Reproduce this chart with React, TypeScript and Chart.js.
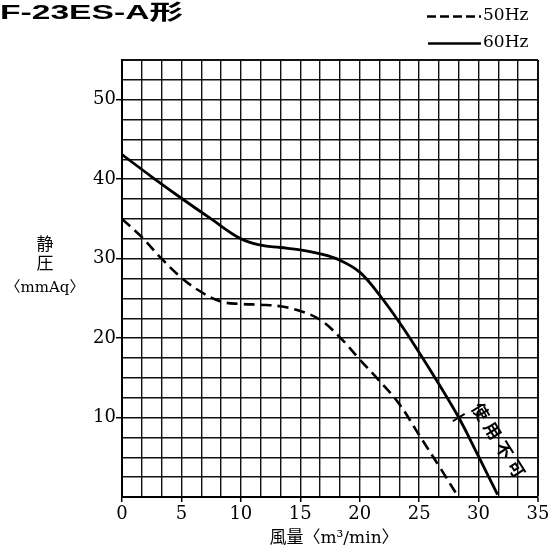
import React, { useEffect, useRef } from "react";
import { Chart, registerables } from "chart.js";

Chart.register(...registerables);

const TITLE = "F-23ES-A形";
const LEGEND_50 = "50Hz";
const LEGEND_60 = "60Hz";
const Y_TITLE_LINES = ["静", "圧", "〈mmAq〉"];
const X_TITLE = "風量〈m³/min〉";
const LIMIT_TEXT = ["使", "用", "不", "可"];

// 60Hz (solid)
const flow60 = [0, 2.5, 5, 7.5, 10, 11.67, 13.33, 15, 16.67, 18.33, 20, 21.67, 23.33, 25, 26.67, 28.33, 30, 31.6];
const press60 = [43.1, 40.3, 37.6, 35.0, 32.5, 31.7, 31.4, 31.1, 30.6, 29.8, 28.3, 25.4, 22.0, 18.2, 14.2, 10.0, 5.1, 0.3];

// 50Hz (dashed)
const flow50 = [0, 1.67, 3.33, 5, 6.67, 8.33, 10, 11.67, 13.33, 15, 16.67, 18.33, 20, 21.67, 23.33, 25, 26.67, 28.3];
const press50 = [35, 32.7, 30, 27.6, 25.8, 24.6, 24.3, 24.2, 24.0, 23.4, 22.3, 20.1, 17.3, 14.6, 11.7, 7.8, 3.9, 0];

const xLabelValues = [0, 5, 10, 15, 20, 25, 30, 35];
const yLabelValues = [10, 20, 30, 40, 50];
const X_MAX = 35;
const Y_MAX = 55;
const X_GRID_STEP = 5 / 3;
const Y_GRID_STEP = 2.5;
const LIMIT_POINT = { x: 28.33, y: 10 };

const near = (v: number, arr: number[]) => arr.some((a) => Math.abs(a - v) < 1e-6);

const SERIF = '"DejaVu Serif", "Noto Sans CJK JP", serif';

const textPlugin = {
  id: "texts",
  afterDraw(chart: any) {
    const ctx = chart.ctx as CanvasRenderingContext2D;
    const xs = chart.scales.x;
    const ys = chart.scales.y;
    ctx.save();
    ctx.fillStyle = "#000";
    ctx.strokeStyle = "#000";

    // Title (wide bold)
    ctx.save();
    ctx.font = 'bold 21px "Liberation Sans", "Noto Sans CJK JP", sans-serif';
    ctx.textAlign = "right";
    ctx.textBaseline = "alphabetic";
    ctx.translate(183, 18.5);
    ctx.scale(1.6, 1);
    ctx.fillText(TITLE, 0, 0);
    ctx.restore();

    // Legend
    ctx.lineWidth = 2.5;
    ctx.setLineDash([9, 4]);
    ctx.beginPath();
    ctx.moveTo(427, 16.5);
    ctx.lineTo(481, 16.5);
    ctx.stroke();
    ctx.setLineDash([]);
    ctx.beginPath();
    ctx.moveTo(428, 43.5);
    ctx.lineTo(481, 43.5);
    ctx.stroke();
    ctx.font = "17px " + SERIF;
    ctx.textAlign = "left";
    ctx.textBaseline = "middle";
    ctx.fillText(LEGEND_50, 483, 16);
    ctx.fillText(LEGEND_60, 483, 43);

    // Y title
    ctx.textAlign = "center";
    ctx.font = "17px " + SERIF;
    ctx.fillText(Y_TITLE_LINES[0], 45, 246);
    ctx.fillText(Y_TITLE_LINES[1], 45, 265);
    ctx.font = "15px " + SERIF;
    ctx.fillText(Y_TITLE_LINES[2], 45, 288);

    // X title
    ctx.font = "17px " + SERIF;
    ctx.fillText(X_TITLE, 334, 539);

    // Limit marker and text
    const px = xs.getPixelForValue(LIMIT_POINT.x);
    const py = ys.getPixelForValue(LIMIT_POINT.y);
    const ang = (58 * Math.PI) / 180;
    ctx.lineWidth = 2;
    const perp = ang - Math.PI / 2;
    ctx.beginPath();
    ctx.moveTo(px - Math.cos(perp) * 7, py - Math.sin(perp) * 7);
    ctx.lineTo(px + Math.cos(perp) * 7, py + Math.sin(perp) * 7);
    ctx.stroke();

    ctx.font = 'bold 17px "Noto Sans CJK JP", sans-serif';
    const startX = px + 22;
    const startY = py - 6;
    LIMIT_TEXT.forEach((ch, i) => {
      const cx = startX + Math.cos(ang) * 22.5 * i;
      const cy = startY + Math.sin(ang) * 22.5 * i;
      ctx.save();
      ctx.translate(cx, cy);
      ctx.rotate(ang);
      ctx.fillText(ch, 0, 0);
      ctx.restore();
    });

    ctx.restore();
  },
};

export default function App() {
  const ref = useRef<HTMLCanvasElement | null>(null);

  useEffect(() => {
    if (!ref.current) return;
    const chart = new Chart(ref.current, {
      type: "line",
      data: {
        datasets: [
          {
            label: LEGEND_50,
            data: flow50.map((x, i) => ({ x, y: press50[i] })),
            borderColor: "#000",
            borderWidth: 2.6,
            borderDash: [11, 6],
            pointRadius: 0,
            tension: 0.4,
            fill: false,
          },
          {
            label: LEGEND_60,
            data: flow60.map((x, i) => ({ x, y: press60[i] })),
            borderColor: "#000",
            borderWidth: 2.8,
            pointRadius: 0,
            tension: 0.4,
            fill: false,
          },
        ],
      },
      options: {
        responsive: false,
        animation: false,
        layout: { padding: { top: 60, right: 14, left: 0, bottom: 0 } },
        plugins: { legend: { display: false }, tooltip: { enabled: false } },
        scales: {
          x: {
            type: "linear",
            min: 0,
            max: X_MAX,
            afterBuildTicks: (scale: any) => {
              const t = [];
              for (let i = 0; i <= Math.round(X_MAX / X_GRID_STEP); i++) t.push({ value: i * X_GRID_STEP });
              scale.ticks = t;
            },
            afterFit: (scale: any) => {
              scale.height = 60;
            },
            ticks: {
              autoSkip: false,
              maxRotation: 0,
              padding: 2,
              color: "#000",
              font: { family: SERIF, size: 18 },
              callback: (v: any) => {
                const n = Number(v);
                return near(n, xLabelValues) ? String(Math.round(n)) : "";
              },
            },
            grid: {
              color: "#111",
              lineWidth: (c: any) => (c.tick && Math.abs(c.tick.value - X_MAX) < 1e-6 ? 2 : 1.4),
              tickLength: 5,
              tickColor: (c: any) => (c.tick && near(c.tick.value, xLabelValues) ? "#000" : "rgba(0,0,0,0)"),
              tickWidth: 1.5,
            },
            border: { display: true, color: "#000", width: 2 },
          },
          y: {
            type: "linear",
            min: 0,
            max: Y_MAX,
            afterBuildTicks: (scale: any) => {
              const t = [];
              for (let i = 0; i <= Math.round(Y_MAX / Y_GRID_STEP); i++) t.push({ value: i * Y_GRID_STEP });
              scale.ticks = t;
            },
            afterFit: (scale: any) => {
              scale.width = 122;
            },
            ticks: {
              autoSkip: false,
              padding: 0,
              color: "#000",
              font: { family: SERIF, size: 18 },
              callback: (v: any) => {
                const n = Number(v);
                return near(n, yLabelValues) ? String(Math.round(n)) : "";
              },
            },
            grid: {
              color: "#111",
              lineWidth: (c: any) => (c.tick && Math.abs(c.tick.value - Y_MAX) < 1e-6 ? 2 : 1.4),
              tickLength: 6,
              tickColor: (c: any) => (c.tick && near(c.tick.value, yLabelValues) ? "#000" : "rgba(0,0,0,0)"),
              tickWidth: 1.5,
            },
            border: { display: true, color: "#000", width: 2 },
          },
        },
      },
      plugins: [textPlugin],
    } as any);
    return () => chart.destroy();
  }, []);

  return (
    <div style={{ position: "fixed", left: 0, top: 0, width: 552, height: 557, background: "#fff" }}>
      <canvas ref={ref} width={552} height={557} style={{ display: "block" }} />
    </div>
  );
}
